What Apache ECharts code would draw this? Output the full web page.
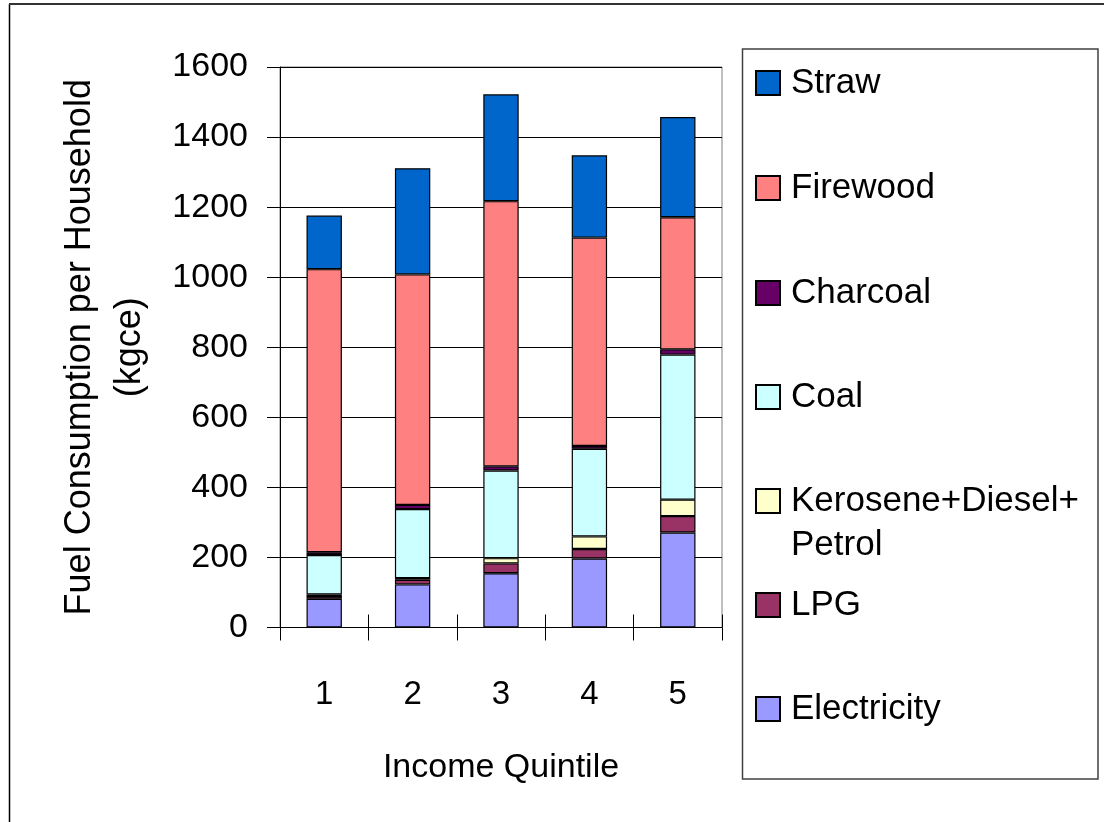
<!DOCTYPE html>
<html>
<head>
<meta charset="utf-8">
<script src="https://cdn.jsdelivr.net/npm/echarts@6/dist/echarts.min.js"></script>
<style>
  html, body { margin: 0; padding: 0; background: #fff; }
  #chart { width: 1104px; height: 822px; }
</style>
</head>
<body>
<div id="chart"></div>
<script>
// Household fuel use (kgce) by income quintile, stacked bottom to top
const quintiles   = ['1', '2', '3', '4', '5'];
const electricity = [82, 123, 155, 197, 271];
const lpg         = [8, 13, 28, 27, 47];
const kerosene    = [4, 5, 15, 36, 47];
const coal        = [113, 197, 250, 250, 414];
const charcoal    = [8, 12, 12, 8, 15];
const firewood    = [808, 658, 757, 595, 377];
const straw       = [153, 303, 305, 235, 286];

const yTicks = { min: 0, max: 1600, interval: 200 };

const FONT = "'Liberation Sans', Arial, sans-serif";

const seriesDefs = [
  { name: 'Electricity', data: electricity, color: '#9999FF' },
  { name: 'LPG', data: lpg, color: '#993366' },
  { name: 'Kerosene+Diesel+Petrol', data: kerosene, color: '#FFFFCC' },
  { name: 'Coal', data: coal, color: '#CCFFFF' },
  { name: 'Charcoal', data: charcoal, color: '#660066' },
  { name: 'Firewood', data: firewood, color: '#FF8080' },
  { name: 'Straw', data: straw, color: '#0066CC' }
];

const series = seriesDefs.map(s => ({
  name: s.name,
  type: 'bar',
  stack: 'fuel',
  barWidth: '40%',
  data: s.data,
  itemStyle: { color: s.color, borderColor: '#000', borderWidth: 1.2 },
  emphasis: { disabled: true }
}));

// Legend entries, top to bottom, each placed as its own row
const legendRows = [
  { name: 'Straw', cy: 83 },
  { name: 'Firewood', cy: 188 },
  { name: 'Charcoal', cy: 293 },
  { name: 'Coal', cy: 397 },
  { name: 'Kerosene+Diesel+Petrol', cy: 501, twoLine: true },
  { name: 'LPG', cy: 605 },
  { name: 'Electricity', cy: 709 }
];

const legends = legendRows.map(r => ({
  data: [r.name],
  orient: 'vertical',
  left: 755,
  top: r.twoLine ? r.cy - 66 : r.cy - 20,
  padding: 0,
  icon: 'rect',
  itemWidth: 24,
  itemHeight: 24,
  selectedMode: false,
  // blank first line keeps the first text line level with the swatch
  formatter: r.twoLine ? () => ' \nKerosene+Diesel+\nPetrol' : undefined,
  textStyle: r.twoLine
    ? { fontFamily: FONT, fontSize: 35, color: '#000', lineHeight: 44, padding: [0, 0, 0, 6] }
    : { fontFamily: FONT, fontSize: 35, color: '#000', lineHeight: 40, padding: [0, 0, 0, 6] }
}));

const chart = echarts.init(document.getElementById('chart'), null, { renderer: 'canvas' });

chart.setOption({
  animation: false,
  backgroundColor: '#fff',
  grid: {
    left: 280, right: 382, top: 67, bottom: 194.5,
    show: true, borderColor: '#808080', borderWidth: 1, backgroundColor: 'transparent'
  },
  legend: legends,
  xAxis: [
    {
      type: 'category',
      data: quintiles,
      position: 'bottom',
      name: 'Income Quintile',
      nameLocation: 'middle',
      nameGap: 123,
      nameTextStyle: { fontFamily: FONT, fontSize: 34, color: '#000' },
      axisLine: { lineStyle: { color: '#000', width: 1 } },
      axisTick: { show: true, length: 13, interval: 0, lineStyle: { color: '#000' } },
      axisLabel: { fontFamily: FONT, fontSize: 33, color: '#000', margin: 51 },
      splitLine: { show: false }
    },
    {
      // ticks that cross the baseline upward
      type: 'category',
      data: quintiles,
      position: 'bottom',
      axisLine: { show: false },
      axisTick: { show: true, inside: true, length: 13, interval: 0, lineStyle: { color: '#000' } },
      axisLabel: { show: false },
      splitLine: { show: false }
    }
  ],
  yAxis: {
    type: 'value',
    min: yTicks.min, max: yTicks.max, interval: yTicks.interval,
    name: 'Fuel Consumption per Household\n(kgce)',
    nameLocation: 'middle',
    nameGap: 125,
    nameTextStyle: { fontFamily: FONT, fontSize: 36, color: '#000', lineHeight: 50 },
    axisLine: { show: true, lineStyle: { color: '#000', width: 1 } },
    axisTick: { show: true, length: 13, lineStyle: { color: '#000' } },
    axisLabel: { fontFamily: FONT, fontSize: 34, color: '#000', margin: 32, formatter: v => String(v) },
    splitLine: { show: true, lineStyle: { color: '#000', width: 1 } }
  },
  series: series,
  graphic: [
    // outer frame (left and top edges)
    { type: 'line', shape: { x1: 9.5, y1: 4, x2: 9.5, y2: 822 }, style: { stroke: '#000', lineWidth: 1.5 }, silent: true },
    { type: 'line', shape: { x1: 9, y1: 4, x2: 1104, y2: 4 }, style: { stroke: '#333', lineWidth: 2 }, silent: true },
    // legend box
    { type: 'rect', shape: { x: 742.5, y: 49, width: 355.5, height: 730 }, style: { fill: 'none', stroke: '#404040', lineWidth: 1.5 }, silent: true, z: -1 }
  ]
});
</script>
</body>
</html>
